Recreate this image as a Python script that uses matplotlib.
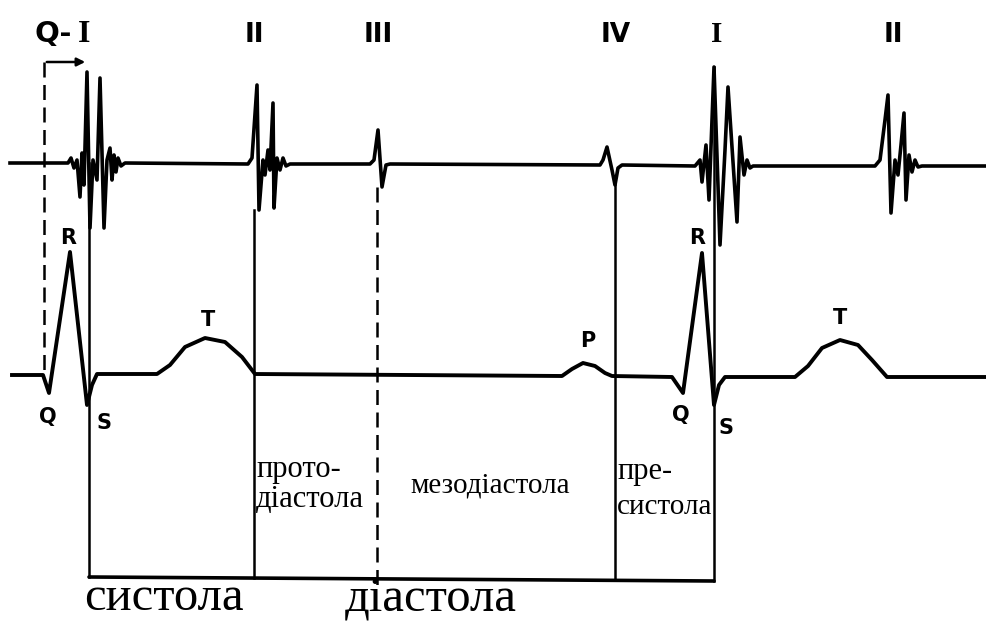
import numpy as np
import matplotlib.pyplot as plt

# --- phonocardiogram trace (pixel space of the original drawing) ---
pcg_x = [10, 68, 71, 74, 77, 80, 82, 84, 87, 90, 93, 97, 100, 104, 107, 110, 112, 114, 116, 118, 121, 125,
         248, 252, 257, 259, 263, 265, 268, 270, 273, 274, 277, 280, 283, 286, 290,
         370, 374, 378, 382, 386, 390,
         600, 603, 607, 612, 615, 618, 622,
         695, 700, 702, 706, 709, 714, 720, 725, 728, 737, 740, 744, 747, 750, 753,
         875, 880, 885, 888, 891, 895, 898, 901, 904, 906, 909, 912, 915, 918, 922, 987]
pcg_y = [163, 163, 158, 168, 160, 197, 153, 185, 72, 228, 160, 180, 78, 228, 160, 148, 180, 155, 172, 158, 166, 163,
         164, 158, 85, 210, 160, 175, 150, 170, 103, 208, 158, 170, 158, 166, 164,
         164, 160, 130, 187, 165, 164,
         165, 160, 147, 170, 185, 168, 165,
         166, 160, 182, 145, 200, 67, 245, 150, 87, 222, 137, 175, 160, 168, 166,
         166, 160, 120, 95, 213, 160, 175, 145, 113, 200, 155, 172, 160, 167, 166, 166]

# --- ECG trace ---
ecg_x = [12, 43, 49, 70, 87, 92, 97, 157, 170, 185, 205, 225, 242, 255,
         562, 572, 583, 595, 605, 612, 672, 683, 702, 714, 719, 725,
         795, 808, 822, 840, 858, 872, 887, 987]
ecg_y = [375, 375, 393, 252, 405, 385, 374, 374, 365, 347, 338, 342, 357, 374,
         376, 369, 363, 366, 373, 376, 377, 393, 253, 405, 385, 377,
         377, 366, 348, 340, 345, 360, 377, 377]

# vertical markers: x, top, bottom, dashed
mark_x = [44, 89, 254, 377, 615, 714]
mark_top = [62, 163, 210, 187, 185, 67]
mark_bot = [372, 577, 578, 590, 579, 581]
mark_dashed = [True, False, False, True, False, False]

# sound labels
sound_labels = ['II', 'III', 'IV', 'I', 'II']
sound_x = [254, 378, 616, 717, 893]

# ECG wave labels
wave_labels = ['R', 'Q', 'S', 'T', 'P', 'R', 'Q', 'S', 'T']
wave_x = [68, 48, 104, 208, 588, 697, 681, 726, 840]
wave_y = [238, 417, 423, 320, 341, 238, 415, 428, 318]

fig = plt.figure(figsize=(9.87, 6.21), dpi=100)
ax = fig.add_axes([0, 0, 1, 1])
ax.set_xlim(0, 987)
ax.set_ylim(621, 0)
ax.axis('off')

ink = '#000000'

ax.plot(pcg_x, pcg_y, color=ink, lw=2.6, solid_joinstyle='round')
ax.plot(ecg_x, ecg_y, color=ink, lw=2.8, solid_joinstyle='round')

for x, t, b, d in zip(mark_x, mark_top, mark_bot, mark_dashed):
    if d:
        ax.plot([x, x], [t, b], color=ink, lw=1.8, dashes=(6, 3))
    else:
        ax.plot([x, x], [t, b], color=ink, lw=1.8)

# bottom bracket
ax.plot([mark_x[1], mark_x[-1]], [577, 581], color=ink, lw=2.6, solid_capstyle='round')

# Q-I interval arrow
ax.annotate('', xy=(88, 62), xytext=(44, 62),
            arrowprops=dict(arrowstyle='-|>', color=ink, lw=1.8, mutation_scale=12))

roman = 'Liberation Serif'
ax.text(35, 34, 'Q-', fontsize=21, fontweight='bold', ha='left', va='center', color=ink)
ax.text(84, 35, 'I', fontsize=23, fontweight='bold', family=roman, ha='center', va='center', color=ink)
for lab, x in zip(sound_labels, sound_x):
    if lab == 'I':
        ax.text(x, 35, lab, fontsize=21, fontweight='bold', family=roman, ha='center', va='center', color=ink)
    else:
        ax.text(x, 35, lab, fontsize=19, fontweight='bold', ha='center', va='center', color=ink)

for lab, x, y in zip(wave_labels, wave_x, wave_y):
    ax.text(x, y, lab, fontsize=15, fontweight='bold', ha='center', va='center', color=ink)

serif = 'Liberation Serif'
ax.text(256, 477, 'прото-', fontsize=22, family=serif, ha='left', va='baseline')
ax.text(256, 507, 'діастола', fontsize=22, family=serif, ha='left', va='baseline')
ax.text(410, 493, 'мезодіастола', fontsize=21, family=serif, ha='left', va='baseline')
ax.text(617, 479, 'пре-', fontsize=22, family=serif, ha='left', va='baseline')
ax.text(617, 514, 'систола', fontsize=21, family=serif, ha='left', va='baseline')

ax.text(84, 610, 'систола', fontsize=35, family=serif, ha='left', va='baseline')
ax.text(345, 610, 'діастола', fontsize=35, family=serif, ha='left', va='baseline')

fig.savefig('out.png', dpi=100)
